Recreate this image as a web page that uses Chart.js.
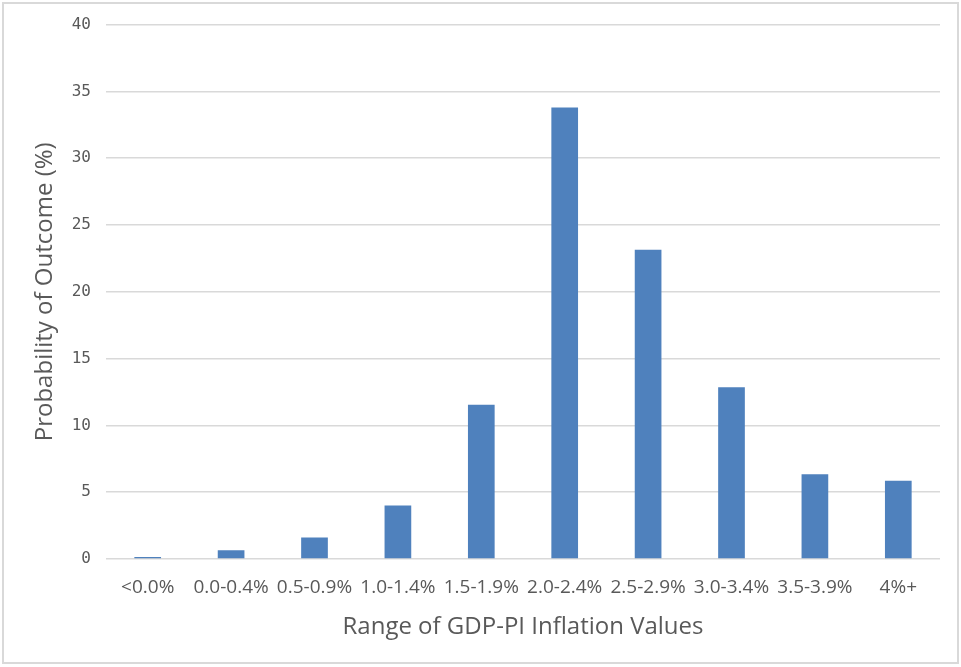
<!DOCTYPE html>
<html lang="en">
<head>
<meta charset="UTF-8">
<title>GDP-PI Inflation Probability</title>
<script src="https://cdn.jsdelivr.net/npm/chart.js@4.4.1/dist/chart.umd.min.js"></script>
<style>
    html, body { margin: 0; padding: 0; background: #ffffff; }
    .frame { position: absolute; left: 2px; top: 2px; width: 953px; height: 658px; border: 2px solid #d9d9d9; }
    .chart-box { position: absolute; left: 0; top: 0; width: 961px; height: 667px; }
</style>
</head>
<body>
<div class="frame"></div>
<div class="chart-box"><canvas id="inflationChart"></canvas></div>
<script>
const categories = ['<0.0%', '0.0-0.4%', '0.5-0.9%', '1.0-1.4%', '1.5-1.9%', '2.0-2.4%', '2.5-2.9%', '3.0-3.4%', '3.5-3.9%', '4%+'];
const probabilities = [0.15, 0.65, 1.6, 4.0, 11.55, 33.8, 23.15, 12.85, 6.35, 5.85];
const yTicks = [0, 5, 10, 15, 20, 25, 30, 35, 40];

const ctx = document.getElementById('inflationChart').getContext('2d');
new Chart(ctx, {
    type: 'bar',
    data: {
        labels: categories,
        datasets: [{
            label: 'Probability of Outcome (%)',
            data: probabilities,
            backgroundColor: '#4f81bd',
            borderWidth: 0,
            barPercentage: 0.32,
            categoryPercentage: 1.0
        }]
    },
    options: {
        responsive: true,
        maintainAspectRatio: false,
        animation: false,
        layout: { padding: { left: 4, top: 16, right: 21, bottom: 0 } },
        plugins: {
            legend: { display: false },
            tooltip: { enabled: false }
        },
        scales: {
            x: {
                afterFit: axis => { axis.height = 108; },
                grid: { display: false, drawTicks: false },
                border: { display: false },
                ticks: {
                    color: '#595959',
                    font: { family: 'Open Sans', size: 19 },
                    padding: 17,
                    maxRotation: 0,
                    autoSkip: false
                },
                title: {
                    display: true,
                    text: 'Range of GDP-PI Inflation Values',
                    color: '#595959',
                    font: { family: 'Open Sans', size: 24 },
                    padding: { top: 25, bottom: 25 }
                }
            },
            y: {
                min: 0,
                max: 40,
                afterBuildTicks: axis => { axis.ticks = yTicks.map(v => ({ value: v })); },
                afterFit: axis => { axis.width = 102; },
                grid: { color: '#d9d9d9', lineWidth: 1.5, drawTicks: false },
                border: { display: false },
                ticks: {
                    color: '#595959',
                    font: { family: 'DejaVu Sans Mono', size: 16 },
                    padding: 15
                },
                title: {
                    display: true,
                    text: 'Probability of Outcome (%)',
                    color: '#595959',
                    font: { family: 'Open Sans', size: 24 },
                    padding: { top: 27, bottom: 0 }
                }
            }
        }
    }
});
</script>
</body>
</html>
